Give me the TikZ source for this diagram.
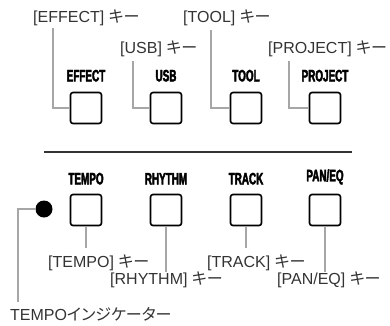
\documentclass[tikz,border=0pt]{standalone}
\usepackage{fontspec}
\setmainfont{Liberation Sans}
\newfontfamily\jp[RawFeature=+palt]{Noto Sans CJK JP}
\newfontfamily\keyfont[FakeStretch=0.6,FakeBold=2.5]{Liberation Sans Bold}
\usetikzlibrary{positioning}

\newcommand{\kii}{{\jp キー}}

\tikzset{
  btn/.style={draw, line width=1.6pt, rounded corners=2.5pt, minimum width=31pt, minimum height=31pt, inner sep=0pt},
  keyname/.style={font=\keyfont\fontsize{16.5}{16.5}\selectfont, inner sep=0pt},
  led/.style={circle, fill=black, minimum size=17pt, inner sep=0pt},
  callout/.style={font=\fontsize{16}{16}\selectfont, text=black!80, inner sep=0pt, text height=12pt, text depth=0pt},
  leader/.style={draw=black!35, line width=1.2pt},
}

\begin{document}
\begin{tikzpicture}[x=1pt,y=-1pt]
\useasboundingbox (0,0) rectangle (390,325);

%% upper keys
\node[btn] (effect) at (86,108) {};
\node[btn] (usb) at (166,108) {};
\node[btn] (tool) at (246,108) {};
\node[btn] (project) at (325,108) {};
\node[keyname, above=10pt of effect] (effectname) {EFFECT};
\node[keyname, above=10pt of usb] (usbname) {USB};
\node[keyname, above=10pt of tool] (toolname) {TOOL};
\node[keyname, above=10pt of project] (projectname) {PROJECT};

%% separator
\draw[line width=1.2pt, black!80] (44,152) -- (352,152);

%% lower keys
\node[btn] (tempo) at (86,210) {};
\node[btn] (rhythm) at (166,210) {};
\node[btn] (track) at (246,210) {};
\node[btn] (paneq) at (325,210) {};
\node[keyname, above=9pt of tempo] (temponame) {TEMPO};
\node[keyname, above=9pt of rhythm] (rhythmname) {RHYTHM};
\node[keyname, above=9pt of track] (trackname) {TRACK};
\node[keyname, above=9pt of paneq] (paneqname) {PAN/EQ};
\node[led] (tempoled) at (44,209) {};

%% callouts
\node[callout, anchor=south west] (effectkey) at (33,23) {[EFFECT] \kii};
\node[callout, anchor=south west] (usbkey) at (120,54) {[USB] \kii};
\node[callout, anchor=south west] (toolkey) at (183,23) {[TOOL] \kii};
\node[callout, anchor=south west] (projectkey) at (268,54) {[PROJECT] \kii};
\node[callout, anchor=south west] (tempokey) at (48,268) {[TEMPO] \kii};
\node[callout, anchor=south west] (rhythmkey) at (110,285) {[RHYTHM] \kii};
\node[callout, anchor=south west] (trackkey) at (207,268) {[TRACK] \kii};
\node[callout, anchor=south west] (paneqkey) at (277,285) {[PAN/EQ] \kii};
\node[callout, anchor=south west] (ledkey) at (10,321) {TEMPO{\jp インジケーター}};

%%% leaders
\draw[leader, shorten <=5pt] ([xshift=20pt]effectkey.south west) |- (effect.west);
\draw[leader, shorten <=7pt] ([xshift=13pt]usbkey.south west) |- (usb.west);
\draw[leader, shorten <=7pt] ([xshift=28pt]toolkey.south west) |- (tool.west);
\draw[leader, shorten <=7pt] ([xshift=21pt]projectkey.south west) |- (project.west);
\draw[leader, shorten >=8pt] (tempo.south) -- (tempo.south |- tempokey.north);
\draw[leader, shorten >=1pt] (rhythm.south) -- (rhythm.south |- rhythmkey.north);
\draw[leader, shorten >=8pt] (track.south) -- (track.south |- trackkey.north);
\draw[leader, shorten >=1pt] (paneq.south) -- (paneq.south |- paneqkey.north);
\draw[leader, shorten >=7pt] (tempoled.west) -| ([xshift=8pt]ledkey.north west);

\end{tikzpicture}
\end{document}
